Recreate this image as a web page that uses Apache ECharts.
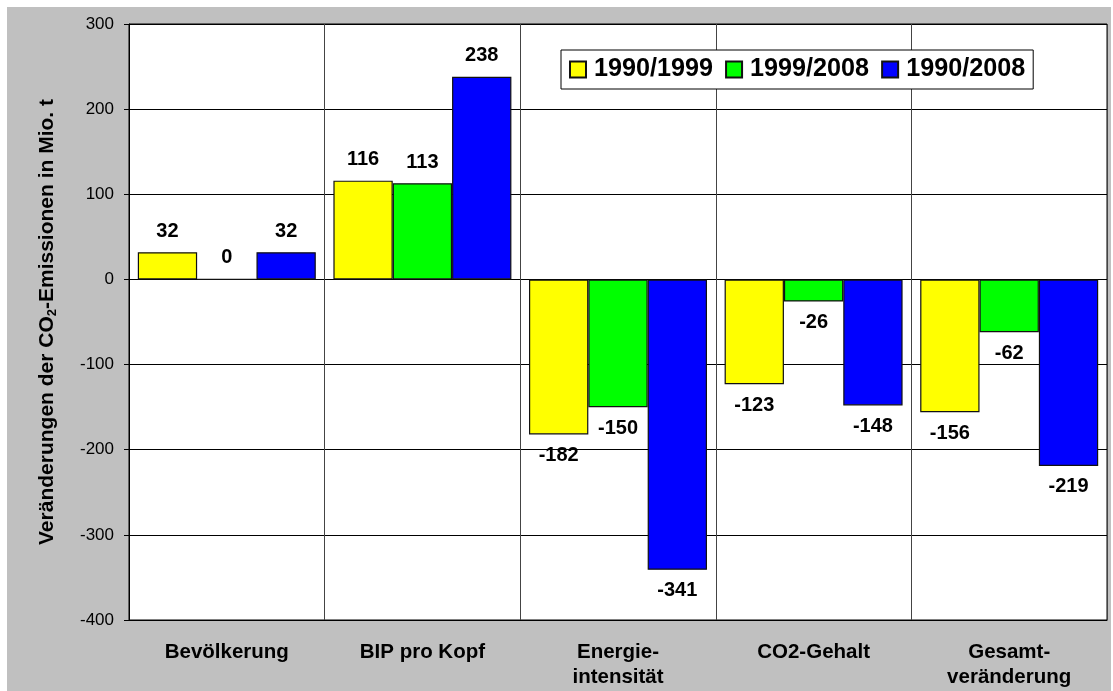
<!DOCTYPE html>
<html>
<head>
<meta charset="utf-8">
<script src="https://cdn.jsdelivr.net/npm/echarts@6/dist/echarts.min.js"></script>
<style>
html,body{margin:0;padding:0;background:#fff;}
#wrap{position:relative;width:1113px;height:691px;background:#fff;}
#chart{position:absolute;left:7px;top:7px;width:1104px;height:684px;}
</style>
</head>
<body>
<div id="wrap"><div id="chart"></div></div>
<script>
var categories = ['Bevölkerung', 'BIP pro Kopf', 'Energie-\nintensität', 'CO2-Gehalt', 'Gesamt-\nveränderung'];
var seriesNames = ['1990/1999', '1999/2008', '1990/2008'];
var values1990_1999 = [32, 116, -182, -123, -156];
var values1999_2008 = [0, 113, -150, -26, -62];
var values1990_2008 = [32, 238, -341, -148, -219];
var colors = ['#ffff00', '#00ff00', '#0000ff'];
var yTicks = { min: -400, max: 300, interval: 100 };

var FONT = 'Liberation Sans, Arial, sans-serif';
var chart = echarts.init(document.getElementById('chart'), null, { renderer: 'canvas' });

function makeData(arr) {
  return arr.map(function (v) {
    return { value: v, label: { position: v < 0 ? 'bottom' : 'top' } };
  });
}

var allValues = [values1990_1999, values1999_2008, values1990_2008];
var series = allValues.map(function (arr, i) {
  return {
    name: seriesNames[i],
    type: 'bar',
    data: makeData(arr),
    barGap: '0%',
    barCategoryGap: '9%',
    itemStyle: { color: colors[i], borderColor: '#111', borderWidth: 1.2 },
    label: {
      show: true,
      distance: 11,
      color: '#000',
      fontFamily: FONT,
      fontWeight: 'bold',
      fontSize: 20
    },
    emphasis: { disabled: true },
    animation: false
  };
});

chart.setOption({
  backgroundColor: '#c0c0c0',
  animation: false,
  textStyle: { fontFamily: FONT },
  grid: {
    left: 122, right: 4, top: 17, bottom: 71,
    show: true, backgroundColor: '#ffffff', borderColor: '#000', borderWidth: 1
  },
  legend: {
    left: 554, top: 43,
    data: seriesNames,
    backgroundColor: '#ffffff',
    borderColor: '#000',
    borderWidth: 1,
    padding: [7, 8, 7, 8],
    itemWidth: 16, itemHeight: 16,
    itemGap: 12,
    icon: 'rect',
    textStyle: { fontSize: 25.2, fontWeight: 'bold', color: '#000', fontFamily: FONT, padding: [0, 0, 0, 3] }
  },
  xAxis: {
    type: 'category',
    data: categories,
    axisLine: { onZero: false, lineStyle: { color: '#000', width: 1 } },
    axisTick: { show: false },
    splitLine: { show: true, lineStyle: { color: '#444', width: 1 } },
    axisLabel: {
      interval: 0, margin: 20, color: '#000',
      fontSize: 20.5, fontWeight: 'bold', lineHeight: 25,
      fontFamily: FONT
    }
  },
  yAxis: {
    type: 'value',
    min: yTicks.min, max: yTicks.max, interval: yTicks.interval,
    name: 'Veränderungen der CO{sub|2}-Emissionen in Mio. t',
    nameLocation: 'middle',
    nameRotate: 90,
    nameGap: 70,
    nameTextStyle: {
      fontSize: 21, fontWeight: 'bold', color: '#000',
      fontFamily: FONT,
      rich: { sub: { fontSize: 13, fontWeight: 'bold', color: '#000', padding: [10, 0, 0, 0], fontFamily: FONT } }
    },
    axisLine: { show: true, lineStyle: { color: '#000', width: 1 } },
    axisTick: { show: true, length: 5, lineStyle: { color: '#000' } },
    splitLine: { show: true, lineStyle: { color: '#000', width: 1 } },
    axisLabel: { color: '#000', fontSize: 17, margin: 15, fontFamily: FONT }
  },
  series: series
});
</script>
</body>
</html>
